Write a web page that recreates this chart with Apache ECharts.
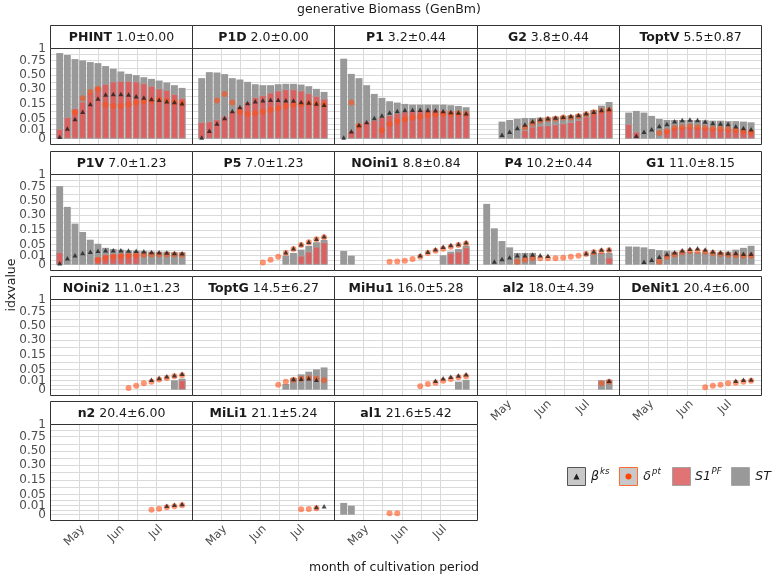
<!DOCTYPE html>
<html><head><meta charset="utf-8">
<script src="https://cdn.jsdelivr.net/npm/echarts@6.0.0/dist/echarts.min.js"></script>
<style>html,body{margin:0;padding:0;background:#fff}#c{width:775px;height:578px}</style>
</head><body><div id="c"></div>
<script>
const N = null;
// sampling dates (month-day)
const sampleDates = ['04-16','04-22','04-28','05-04','05-10','05-16','05-22','05-28','06-03','06-09','06-15','06-21','06-27','07-03','07-09','07-15','07-21'];
const monthStarts = ['05-01','06-01','07-01'];
const monthLabels = ['May','Jun','Jul'];
const yTickValues = [0,0.01,0.05,0.15,0.3,0.5,0.75,1];
const yTickLabels = ['0','0.01','0.05','0.15','0.30','0.50','0.75','1'];
const NONE = [N,N,N,N,N,N,N,N,N,N,N,N,N,N,N,N,N];

const PHINT_ST = [0.904,0.863,0.781,0.755,0.724,0.704,0.650,0.602,0.557,0.518,0.497,0.466,0.441,0.417,0.389,0.353,0.318];
const PHINT_S1 = [0.012,0.058,0.114,0.170,0.262,0.335,0.371,0.403,0.412,0.412,0.403,0.379,0.345,0.310,0.294,0.247,0.205];
const PHINT_delta = [N,N,0.086,0.202,0.270,0.306,0.141,0.132,0.132,0.146,0.161,0.173,0.179,0.186,0.176,0.164,0.152];
const PHINT_beta = [0.0005,0.013,0.048,0.090,0.149,0.198,0.240,0.247,0.247,0.240,0.222,0.208,0.195,0.186,0.173,0.166,0.154];

const P1D_ST = [0.452,0.546,0.540,0.514,0.452,0.432,0.398,0.366,0.353,0.353,0.366,0.371,0.371,0.361,0.340,0.306,0.270];
const P1D_S1 = [0.034,0.037,0.046,0.064,0.097,0.132,0.170,0.212,0.233,0.262,0.286,0.301,0.301,0.286,0.255,0.226,0.198];
const P1D_delta = [N,N,0.179,0.247,0.161,0.088,0.075,0.080,0.090,0.102,0.114,0.132,0.141,0.149,0.154,0.149,0.143];
const P1D_beta = [0.0002,0.008,0.028,0.053,0.095,0.124,0.158,0.173,0.182,0.186,0.186,0.182,0.179,0.166,0.161,0.152,0.143];

const P1_ST = [0.789,0.518,0.452,0.353,0.247,0.205,0.173,0.161,0.149,0.143,0.143,0.143,0.143,0.143,0.138,0.132,0.122];
const P1_S1 = [N,0.009,0.029,0.038,0.043,0.058,0.069,0.080,0.090,0.097,0.102,0.106,0.106,0.102,0.097,0.088,0.080];
const P1_delta = [N,0.161,0.020,N,N,0.009,0.027,0.037,0.046,0.055,0.060,0.068,0.073,0.077,0.077,0.080,0.077];
const P1_beta = [0.0002,0.007,0.023,0.034,0.053,0.066,0.084,0.095,0.102,0.104,0.104,0.102,0.099,0.095,0.088,0.084,0.080];

const G2_ST = [N,N,0.036,0.043,0.049,0.053,0.053,0.055,0.056,0.060,0.064,0.068,0.073,0.082,0.102,0.135,0.166];
const G2_S1 = [N,N,N,N,N,0.009,0.018,0.021,0.022,0.025,0.029,0.034,0.043,0.060,0.080,0.097,0.112];
const G2_delta = [N,N,N,N,N,0.016,0.028,0.040,0.046,0.049,0.055,0.056,0.062,0.073,0.086,0.097,0.102];
const G2_beta = [N,N,0.002,0.006,0.014,0.025,0.038,0.048,0.051,0.055,0.060,0.064,0.069,0.080,0.090,0.102,0.109];

const ToptV_ST = [0.084,0.095,0.084,0.064,0.048,0.043,0.043,0.043,0.043,0.043,0.042,0.040,0.040,0.038,0.038,0.036,0.033];
const ToptV_S1 = [0.027,0.006,N,N,N,0.011,0.016,0.018,0.018,0.018,0.016,0.015,0.013,0.012,0.011,0.009,0.008];
const ToptV_delta = [N,N,N,N,0.004,0.007,0.014,0.016,0.018,0.016,0.014,0.012,0.012,0.011,0.009,0.007,0.005];
const ToptV_beta = [N,0.001,0.006,0.011,0.020,0.027,0.038,0.043,0.045,0.043,0.036,0.030,0.028,0.027,0.019,0.014,0.011];

const P1V_ST = [0.761,0.412,0.208,0.132,0.077,0.054,0.035,0.030,0.028,0.025,0.024,0.023,0.021,0.021,0.021,0.019,0.019];
const P1V_S1 = [0.019,N,N,N,N,0.008,0.013,0.015,0.017,0.017,0.017,N,N,N,N,N,N];
const P1V_delta = [N,N,N,N,N,0.003,0.006,0.008,0.009,0.010,0.011,0.012,0.013,0.013,0.013,0.013,0.012];
const P1V_beta = [0.0003,0.005,0.011,0.017,0.021,0.024,0.026,0.026,0.026,0.025,0.024,0.022,0.020,0.019,0.018,0.017,0.016];

const P5_ST = [N,N,N,N,N,N,N,N,N,N,N,0.010,0.017,0.028,0.044,0.062,0.075];
const P5_S1 = [N,N,N,N,N,N,N,N,N,N,N,N,N,0.010,0.021,0.040,0.062];
const P5_delta = [N,N,N,N,N,N,N,N,0.0006,0.003,0.008,0.017,0.030,0.048,0.062,0.079,0.092];
const P5_beta = [N,N,N,N,N,N,N,N,N,N,N,0.019,0.033,0.051,0.065,0.083,0.099];

const NOini1_ST = [0.023,0.010,N,N,N,N,N,N,N,N,N,N,N,0.011,0.021,0.030,0.044];
const NOini1_S1 = [N,N,N,N,N,N,N,N,N,N,N,N,N,N,0.017,0.021,0.037];
const NOini1_delta = [N,N,N,N,N,N,0.001,0.0013,0.0019,0.004,0.008,0.017,0.024,0.031,0.040,0.048,0.056];
const NOini1_beta = [N,N,N,N,N,N,N,N,N,N,0.011,0.021,0.029,0.040,0.048,0.053,0.062];

const P4_ST = [0.456,0.163,0.069,0.037,0.017,0.017,0.017,N,N,N,N,N,N,N,0.017,0.017,0.017];
const P4_S1 = [N,N,N,N,N,N,N,N,N,N,N,N,N,N,N,N,0.0065];
const P4_delta = [N,N,N,N,0.001,0.003,0.005,0.005,0.005,0.005,0.006,0.008,0.010,0.014,0.019,0.022,0.026];
const P4_beta = [N,0.0013,0.004,0.007,0.011,0.011,0.013,0.011,0.010,N,N,N,N,0.016,0.022,0.028,0.029];

const G1_ST = [0.041,0.040,0.037,0.030,0.026,0.024,0.021,0.021,0.021,0.019,0.019,0.019,0.019,0.021,0.028,0.035,0.044];
const G1_S1 = NONE;
const G1_delta = [N,N,N,N,0.001,0.008,0.013,0.019,0.023,0.023,0.021,0.017,0.014,0.012,0.011,0.010,0.010];
const G1_beta = [N,N,0.001,0.003,0.008,0.014,0.019,0.026,0.031,0.033,0.028,0.022,0.019,0.017,0.017,0.015,0.015];

const NOini2_ST = [N,N,N,N,N,N,N,N,N,N,N,N,N,N,N,0.011,0.015];
const NOini2_S1 = [N,N,N,N,N,N,N,N,N,N,N,N,N,N,N,N,0.011];
const NOini2_delta = [N,N,N,N,N,N,N,N,N,0.0004,0.002,0.005,0.008,0.013,0.017,0.022,0.026];
const NOini2_beta = [N,N,N,N,N,N,N,N,N,N,N,N,0.012,0.017,0.022,0.026,0.031];

const ToptG_ST = [N,N,N,N,N,N,N,N,N,N,N,0.004,0.017,0.029,0.040,0.051,0.061];
const ToptG_S1 = NONE;
const ToptG_delta = [N,N,N,N,N,N,N,N,N,N,0.003,0.008,0.012,0.015,0.017,0.015,0.011];
const ToptG_beta = [N,N,N,N,N,N,N,N,N,N,N,N,0.014,0.015,0.016,0.012,N];

const MiHu1_ST = [N,N,N,N,N,N,N,N,N,N,N,N,N,N,N,0.008,0.012];
const MiHu1_S1 = NONE;
const MiHu1_delta = [N,N,N,N,N,N,N,N,N,N,0.0015,0.004,0.006,0.010,0.014,0.019,0.022];
const MiHu1_beta = [N,N,N,N,N,N,N,N,N,N,N,N,0.010,0.016,0.021,0.025,0.029];

const al2_ST = [N,N,N,N,N,N,N,N,N,N,N,N,N,N,N,0.011,0.012];
const al2_S1 = NONE;
const al2_delta = [N,N,N,N,N,N,N,N,N,N,N,N,N,N,N,0.005,0.008];
const al2_beta = [N,N,N,N,N,N,N,N,N,N,N,N,N,N,N,N,0.010];

const DeNit1_ST = NONE;
const DeNit1_S1 = NONE;
const DeNit1_delta = [N,N,N,N,N,N,N,N,N,N,0.0008,0.002,0.003,0.005,0.006,0.008,0.010];
const DeNit1_beta = [N,N,N,N,N,N,N,N,N,N,N,N,N,N,0.010,0.012,0.013];

const n2_ST = NONE;
const n2_S1 = NONE;
const n2_delta = [N,N,N,N,N,N,N,N,N,N,N,N,0.003,0.0045,0.0067,0.0086,0.011];
const n2_beta = [N,N,N,N,N,N,N,N,N,N,N,N,N,N,0.010,0.012,0.014];

const MiLi1_ST = NONE;
const MiLi1_S1 = NONE;
const MiLi1_delta = [N,N,N,N,N,N,N,N,N,N,N,N,N,0.0035,0.004,0.005,N];
const MiLi1_beta = [N,N,N,N,N,N,N,N,N,N,N,N,N,N,N,0.0074,0.0086];

const al1_ST = [0.017,0.010,N,N,N,N,N,N,N,N,N,N,N,N,N,N,N];
const al1_S1 = NONE;
const al1_delta = [N,N,N,N,N,N,0.0003,0.0003,N,N,N,N,N,N,N,N,N];
const al1_beta = NONE;

const panelNames = ['PHINT','P1D','P1','G2','ToptV','P1V','P5','NOini1','P4','G1','NOini2','ToptG','MiHu1','al2','DeNit1','n2','MiLi1','al1'];
const panelStats = ['1.0±0.00','2.0±0.00','3.2±0.44','3.8±0.44','5.5±0.87','7.0±1.23','7.0±1.23','8.8±0.84','10.2±0.44','11.0±8.15','11.0±1.23','14.5±6.27','16.0±5.28','18.0±4.39','20.4±6.00','20.4±6.00','21.1±5.24','21.6±5.42'];
const panelData = [
  [PHINT_ST,PHINT_S1,PHINT_delta,PHINT_beta],[P1D_ST,P1D_S1,P1D_delta,P1D_beta],[P1_ST,P1_S1,P1_delta,P1_beta],
  [G2_ST,G2_S1,G2_delta,G2_beta],[ToptV_ST,ToptV_S1,ToptV_delta,ToptV_beta],[P1V_ST,P1V_S1,P1V_delta,P1V_beta],
  [P5_ST,P5_S1,P5_delta,P5_beta],[NOini1_ST,NOini1_S1,NOini1_delta,NOini1_beta],[P4_ST,P4_S1,P4_delta,P4_beta],
  [G1_ST,G1_S1,G1_delta,G1_beta],[NOini2_ST,NOini2_S1,NOini2_delta,NOini2_beta],[ToptG_ST,ToptG_S1,ToptG_delta,ToptG_beta],
  [MiHu1_ST,MiHu1_S1,MiHu1_delta,MiHu1_beta],[al2_ST,al2_S1,al2_delta,al2_beta],[DeNit1_ST,DeNit1_S1,DeNit1_delta,DeNit1_beta],
  [n2_ST,n2_S1,n2_delta,n2_beta],[MiLi1_ST,MiLi1_S1,MiLi1_delta,MiLi1_beta],[al1_ST,al1_S1,al1_delta,al1_beta]
];

// ---------- layout / style ----------
const FONT = 'DejaVu Sans';
const colLeft = [50,192,334,477,619,761];
const stripTop = [25,151,276,401];
const STRIP_H = 23, PANEL_H = 96;
const PXD = 7.65/6;          // px per day
const X_MIN = 98.4;
const Y_MIN = -0.059, Y_MAX = 1.007;
const GRID_C = '#DADADA';
const C_ST = '#999999', C_S1 = '#DC6060', C_DOT = 'rgba(255,78,20,0.75)', C_TRI = '#1E1E1E';

const CUM = [0,31,59,90,120,151,181,212,243,273,304,334];
const doy = md => { const [m,d] = md.split('-').map(Number); return CUM[m-1]+d; };
const xs = sampleDates.map(doy);
const majorX = monthStarts.map(doy);
const gridX = majorX.slice();
for (let i=0;i<majorX.length-1;i++) gridX.push((majorX[i]+majorX[i+1])/2);
const majorY = yTickValues.map(Math.sqrt);
const gridY = majorY.slice();
for (let i=0;i<majorY.length-1;i++) gridY.push((majorY[i]+majorY[i+1])/2);
// labels split over two axes so neighbouring labels never collide (all are drawn)
const labelsA = majorY.filter((v,i)=>i%2===0);
const labelsB = majorY.filter((v,i)=>i%2===1);
const yFmt = v => { const i = majorY.findIndex(m=>Math.abs(m-v)<1e-6); return i>=0 ? yTickLabels[i] : ''; };

const pairs = arr => arr.map((v,i)=> v==null ? null : [xs[i], Math.sqrt(v)]).filter(d=>d);

const grids=[], xAxes=[], yAxes=[], extraY=[], series=[], graphics=[];
const barW = 0.9*6*PXD;

panelNames.forEach((name,k)=>{
  const r = Math.floor(k/5), c = k%5;
  const L = colLeft[c], W = colLeft[c+1]-colLeft[c];
  const T = stripTop[r] + STRIP_H;
  grids.push({left:L, top:T, width:W, height:PANEL_H, show:false, containLabel:false, outerBoundsMode:'none'});
  const showX = (r===3) || (r===2 && c>=3);
  xAxes.push({type:'value', gridIndex:k, min:X_MIN, max:X_MIN+W/PXD,
    axisLine:{show:false}, axisTick:{show:false, customValues:gridX},
    splitLine:{show:true, lineStyle:{color:GRID_C, width:1}},
    axisLabel:{show:showX, customValues:majorX, rotate:45, margin:3, verticalAlign:'top', hideOverlap:false,
      showMinLabel:true, showMaxLabel:true, fontSize:11.5, fontFamily:FONT, color:'#4D4D4D',
      formatter: v => { const i = majorX.indexOf(v); return i>=0 ? monthLabels[i] : ''; }}
  });
  const yLab = {customValues:labelsA, margin:4, hideOverlap:false, showMinLabel:true, showMaxLabel:true,
      fontSize:12, fontFamily:FONT, color:'#4D4D4D', formatter:yFmt};
  yAxes.push({type:'value', gridIndex:k, min:Y_MIN, max:Y_MAX, position:'left',
    axisLine:{show:false}, axisTick:{show:false, customValues:gridY},
    splitLine:{show:true, lineStyle:{color:GRID_C, width:1}},
    axisLabel:Object.assign({show:c===0}, yLab)
  });
  if (c===0) {
    extraY.push({type:'value', gridIndex:k, min:Y_MIN, max:Y_MAX, position:'left', offset:0,
      axisLine:{show:false}, axisTick:{show:false}, splitLine:{show:false},
      axisLabel:Object.assign({}, yLab, {show:true, customValues:labelsB})});
  }
  const [st,s1,dl,bt] = panelData[k];
  series.push({type:'bar', xAxisIndex:k, yAxisIndex:k, data:pairs(st), barWidth:barW, barGap:'-100%', itemStyle:{color:C_ST}, silent:true});
  series.push({type:'bar', xAxisIndex:k, yAxisIndex:k, data:pairs(s1), barWidth:barW, barGap:'-100%', itemStyle:{color:C_S1, borderColor:'#A3A3A3', borderWidth:0.8}, silent:true});
  series.push({type:'scatter', xAxisIndex:k, yAxisIndex:k, data:pairs(dl), symbol:'circle', symbolSize:6, itemStyle:{color:C_DOT}, silent:true});
  series.push({type:'scatter', xAxisIndex:k, yAxisIndex:k, data:pairs(bt), symbol:'triangle', symbolSize:[5,4.5], itemStyle:{color:C_TRI}, silent:true});
  // panel border
  graphics.push({type:'rect', shape:{x:L+0.5, y:T+0.5, width:W, height:PANEL_H}, style:{fill:'none', stroke:'#333', lineWidth:1}, z:100, silent:true});
  // strip
  graphics.push({type:'rect', shape:{x:L+0.5, y:stripTop[r]+0.5, width:W, height:STRIP_H}, style:{fill:'#fff', stroke:'#333', lineWidth:1}, z:100, silent:true});
  graphics.push({type:'text', x:L+W/2+0.5, y:stripTop[r]+STRIP_H/2+1, z:101, silent:true,
    style:{text:'{b|'+name+'} '+panelStats[k], rich:{b:{fontWeight:'bold', fontSize:12.5, fontFamily:FONT, fill:'#1A1A1A'}},
      fontSize:12.5, fontFamily:FONT, fill:'#1A1A1A', align:'center', verticalAlign:'middle', textAlign:'center', textVerticalAlign:'middle'}});
});

// titles
function txt(x,y,t,size,extra){ return Object.assign({type:'text', x:x, y:y, z:101, silent:true,
  style:Object.assign({text:t, fontSize:size, fontFamily:FONT, fill:'#1A1A1A', align:'center', verticalAlign:'middle', textAlign:'center', textVerticalAlign:'middle'}, extra||{})}); }
graphics.push(txt(389,10,'generative Biomass (GenBm)',12.5));
graphics.push(txt(394,568,'month of cultivation period',12.5));
graphics.push(Object.assign(txt(0,0,'idxvalue',12.5), {x:12, y:285, rotation:Math.PI/2}));

// legend
const LY = 467.5;
graphics.push({type:'rect', shape:{x:567.5,y:LY,width:18,height:18}, style:{fill:'#C8C8C8', stroke:'#555', lineWidth:1}, z:101});
graphics.push({type:'polygon', shape:{points:[[576.5,473.5],[573.5,479.5],[579.5,479.5]]}, style:{fill:C_TRI}, z:102});
graphics.push(txt(595,477,'β',12.5,{fontStyle:'italic', align:'center'}));
graphics.push(txt(600,472,'ks',8.5,{fontStyle:'italic', align:'left', textAlign:'left'}));
graphics.push({type:'rect', shape:{x:619.5,y:LY,width:18,height:18}, style:{fill:'#C8C8C8', stroke:'#FF6A33', lineWidth:1}, z:101});
graphics.push({type:'circle', shape:{cx:628.5, cy:476.5, r:3}, style:{fill:'#FF4500'}, z:102});
graphics.push(txt(647,477,'δ',12.5,{fontStyle:'italic'}));
graphics.push(txt(652,472,'pt',8.5,{fontStyle:'italic', align:'left', textAlign:'left'}));
graphics.push({type:'rect', shape:{x:672.5,y:LY,width:18,height:18}, style:{fill:'#E07373', stroke:'#A3A3A3', lineWidth:1}, z:101});
graphics.push(txt(703,477,'S1',12.5,{fontStyle:'italic'}));
graphics.push(txt(711.5,472,'PF',8.5,{fontStyle:'italic', align:'left', textAlign:'left'}));
graphics.push({type:'rect', shape:{x:731.5,y:LY,width:18,height:18}, style:{fill:C_ST, stroke:'#A8A8A8', lineWidth:1}, z:101});
graphics.push(txt(763,477,'ST',12.5,{fontStyle:'italic'}));

const chart = echarts.init(document.getElementById('c'), null, {renderer:'canvas'});
chart.setOption({
  animation:false,
  backgroundColor:'#fff',
  grid:grids, xAxis:xAxes, yAxis:yAxes.concat(extraY), series:series, graphic:graphics
});
</script>
</body></html>
